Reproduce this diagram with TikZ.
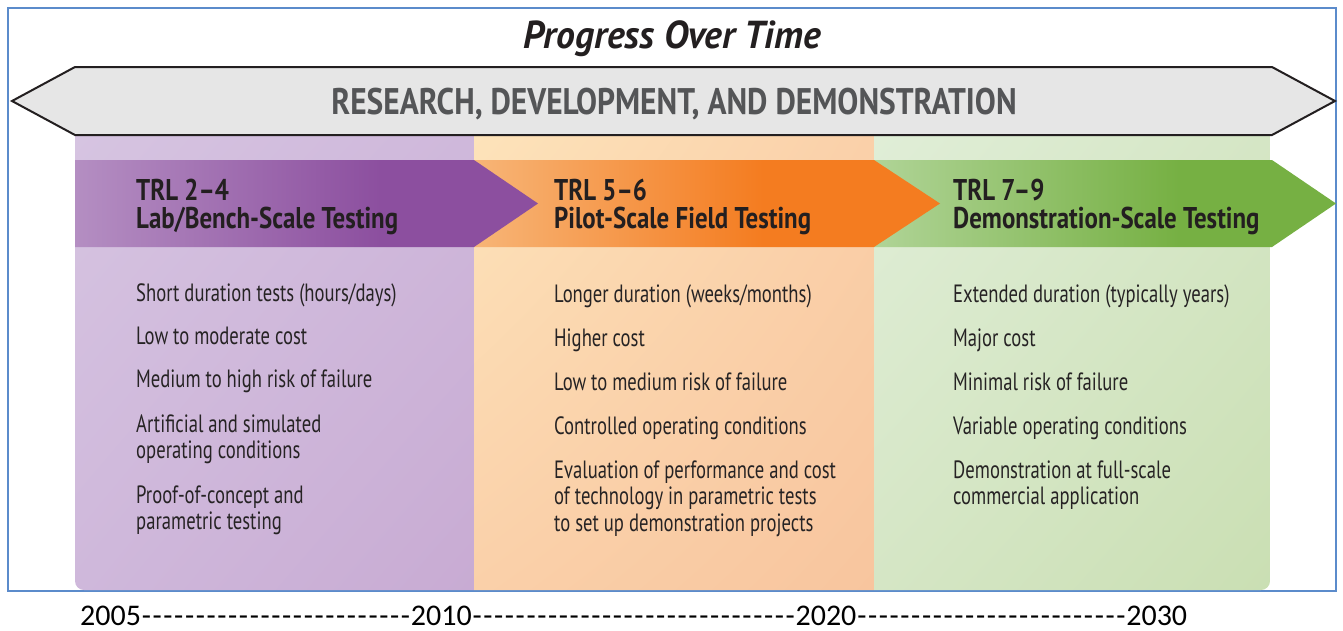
\documentclass[tikz,border=0pt]{standalone}
\usepackage{fontspec}
\usetikzlibrary{shadings}
\newfontfamily\bodyfont{PT Sans}[FakeStretch=0.746]
\newfontfamily\headfont{PT Sans}[FakeStretch=0.83]
\newfontfamily\titlefont{PT Sans}[FakeStretch=0.965]
\newfontfamily\rdfont{PT Sans}[FakeStretch=0.85]
\newfontfamily\tlfont{Carlito}
\newcommand{\tldash}{\hbox to 10.8pt{\hss-\hss}}
\definecolor{framec}{HTML}{5B8BCB}
\definecolor{arrowfill}{HTML}{E6E6E6}
\definecolor{arrowline}{HTML}{231F20}
\definecolor{rdtext}{HTML}{545557}
\definecolor{headtext}{HTML}{231F20}
\definecolor{bodytext}{HTML}{262324}
\definecolor{purpTL}{HTML}{D6C4E1}
\definecolor{purpBR}{HTML}{C8ABD3}
\definecolor{oranTL}{HTML}{FDE3BA}
\definecolor{oranBR}{HTML}{F8C59E}
\definecolor{greeTL}{HTML}{E0EED7}
\definecolor{greeBR}{HTML}{CADFB3}
\definecolor{purpML}{HTML}{CFB8DB}
\definecolor{oranML}{HTML}{FAD0A9}
\definecolor{greeML}{HTML}{D5E6C5}
\definecolor{purpL}{HTML}{B48EC2}
\definecolor{purpD}{HTML}{8C4F9F}
\definecolor{oranL}{HTML}{F7B577}
\definecolor{oranD}{HTML}{F47C20}
\definecolor{greeL}{HTML}{B0D497}
\definecolor{greeD}{HTML}{76B043}
\pgfdeclarehorizontalshading{purpH}{100bp}{color(0bp)=(purpL); color(25bp)=(purpL); color(58bp)=(purpD); color(100bp)=(purpD)}
\pgfdeclarehorizontalshading{oranH}{100bp}{color(0bp)=(oranL); color(25bp)=(oranL); color(56bp)=(oranD); color(100bp)=(oranD)}
\pgfdeclarehorizontalshading{greeH}{100bp}{color(0bp)=(greeL); color(25bp)=(greeL); color(58bp)=(greeD); color(100bp)=(greeD)}
\tikzset{
  body/.style={font=\bodyfont\fontsize{25}{27}\selectfont, text=bodytext, inner sep=0pt, anchor=base west},
  headtxt/.style={font=\headfont\bfseries\fontsize{30}{32}\selectfont, text=headtext, inner sep=0pt, anchor=base west},
  dblarrow/.style={fill=arrowfill, draw=arrowline, line width=2pt, line join=miter},
}
\begin{document}
\begin{tikzpicture}[x=1pt,y=-1pt]
\useasboundingbox (0,0) rectangle (1343,630);
% frame
\draw[framec, line width=1.5pt] (8,8) rectangle (1336,591);
% columns with rounded bottom corners
\begin{scope}
  \clip[rounded corners=9pt] (75,100) rectangle (1270,590);
  \shade[upper left=purpTL, upper right=purpML, lower left=purpML, lower right=purpBR] (75,135) rectangle (474,590);
  \shade[upper left=oranTL, upper right=oranML, lower left=oranML, lower right=oranBR] (474,135) rectangle (874,590);
  \shade[upper left=greeTL, upper right=greeML, lower left=greeML, lower right=greeBR] (874,135) rectangle (1270,590);
\end{scope}
% header arrows
\shade[shading=greeH] (874,160) -- (1272,160) -- (1336,203.5) -- (1272,247) -- (874,247) -- cycle;
\shade[shading=oranH] (474,160) -- (874,160) -- (940,203.5) -- (874,247) -- (474,247) -- cycle;
\shade[shading=purpH] (75,160) -- (474,160) -- (538,203.5) -- (474,247) -- (75,247) -- cycle;
% double arrow
\draw[dblarrow] (12,101) -- (75,67) -- (1272,67) -- (1335,101) -- (1272,135) -- (75,135) -- cycle;
% title and banner text
\node[font=\titlefont\bfseries\itshape\fontsize{39}{41}\selectfont, text=headtext, inner sep=0pt, anchor=base] (title) at (672,48) {Progress Over Time};
\node[font=\rdfont\bfseries\fontsize{37}{39}\selectfont, text=rdtext, inner sep=0pt, anchor=base] (rd) at (674,114) {RESEARCH, DEVELOPMENT, AND DEMONSTRATION};
% headers
\node[headtxt] (h1a) at (136,200) {TRL 2–4};
\node[headtxt] (h1b) at (136,228) {Lab/Bench-Scale Testing};
\node[headtxt] (h2a) at (554,200) {TRL 5–6};
\node[headtxt] (h2b) at (554,228) {Pilot-Scale Field Testing};
\node[headtxt] (h3a) at (953,200) {TRL 7–9};
\node[headtxt] (h3b) at (953,228) {Demonstration-Scale Testing};
% column 1
\node[body] (c1i1) at (136,301) {Short duration tests (hours/days)};
\node[body] (c1i2) at (136,344) {Low to moderate cost};
\node[body] (c1i3) at (136,387) {Medium to high risk of failure};
\node[body] (c1i4a) at (136,432) {Artificial and simulated};
\node[body] (c1i4b) at (136,458) {operating conditions};
\node[body] (c1i5a) at (136,503) {Proof-of-concept and};
\node[body] (c1i5b) at (136,529) {parametric testing};
% column 2
\node[body] (c2i1) at (554,302) {Longer duration (weeks/months)};
\node[body] (c2i2) at (554,346) {Higher cost};
\node[body] (c2i3) at (554,390) {Low to medium risk of failure};
\node[body] (c2i4) at (554,434) {Controlled operating conditions};
\node[body] (c2i5a) at (554,478) {Evaluation of performance and cost};
\node[body] (c2i5b) at (554,504) {of technology in parametric tests};
\node[body] (c2i5c) at (554,531) {to set up demonstration projects};
% column 3
\node[body] (c3i1) at (953,302) {Extended duration (typically years)};
\node[body] (c3i2) at (953,346) {Major cost};
\node[body] (c3i3) at (953,390) {Minimal risk of failure};
\node[body] (c3i4) at (953,434) {Variable operating conditions};
\node[body] (c3i5a) at (953,478) {Demonstration at full-scale};
\node[body] (c3i5b) at (953,504) {commercial application};
% timeline
\node[font=\tlfont\fontsize{30}{32}\selectfont, text=black, inner sep=0pt, anchor=base west] (timeline) at (80,625) {2005\tldash\tldash\tldash\tldash\tldash\tldash\tldash\tldash\tldash\tldash\tldash\tldash\tldash\tldash\tldash\tldash\tldash\tldash\tldash\tldash\tldash\tldash\tldash\tldash\tldash 2010\tldash\tldash\tldash\tldash\tldash\tldash\tldash\tldash\tldash\tldash\tldash\tldash\tldash\tldash\tldash\tldash\tldash\tldash\tldash\tldash\tldash\tldash\tldash\tldash\tldash\tldash\tldash\tldash\tldash\tldash 2020\tldash\tldash\tldash\tldash\tldash\tldash\tldash\tldash\tldash\tldash\tldash\tldash\tldash\tldash\tldash\tldash\tldash\tldash\tldash\tldash\tldash\tldash\tldash\tldash\tldash 2030};
\end{tikzpicture}
\end{document}
